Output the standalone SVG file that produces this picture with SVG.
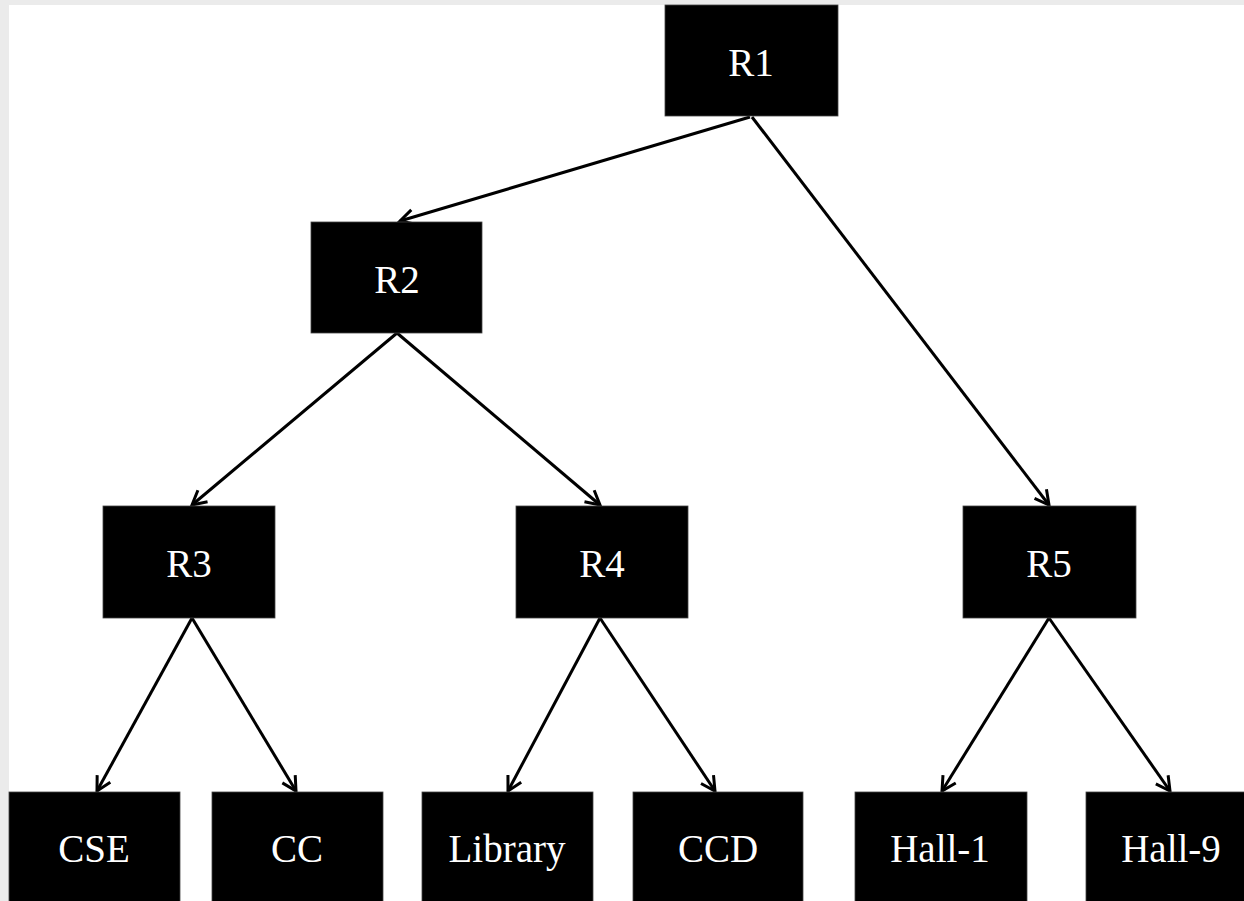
<svg xmlns="http://www.w3.org/2000/svg" width="1244" height="901" viewBox="0 0 1244 901">
<style>
.box{fill:#000;stroke:#444;stroke-width:0.8}
.lbl{fill:#fff;font-family:"Liberation Serif","Times New Roman",serif;font-size:39px;text-anchor:middle}
.edge{stroke:#000;stroke-width:3;fill:none;marker-end:url(#arr)}
</style>
<defs>
<marker id="arr" viewBox="0 0 18 18" refX="16" refY="9" markerWidth="18" markerHeight="18" markerUnits="userSpaceOnUse" orient="auto" overflow="visible">
<path d="M2,1.5 L16,9 L2,16.5" fill="none" stroke="#000" stroke-width="3" stroke-linejoin="miter"/>
</marker>
</defs>
<rect x="0" y="0" width="1244" height="901" fill="#ebebeb"/>
<rect x="9" y="5" width="1235" height="896" fill="#fff"/>
<g id="connectors">
<line class="edge" x1="750" y1="117" x2="400" y2="221"/>
<line class="edge" x1="752" y1="117" x2="1049" y2="505"/>
<line class="edge" x1="397" y1="333" x2="192" y2="505"/>
<line class="edge" x1="397" y1="333" x2="600" y2="505"/>
<line class="edge" x1="192" y1="618" x2="97" y2="791"/>
<line class="edge" x1="192" y1="618" x2="296" y2="791"/>
<line class="edge" x1="600" y1="618" x2="508" y2="791"/>
<line class="edge" x1="600" y1="618" x2="715" y2="791"/>
<line class="edge" x1="1049" y1="618" x2="942" y2="791"/>
<line class="edge" x1="1049" y1="618" x2="1170" y2="791"/>
</g>
<g id="R1"><rect class="box" x="665" y="5" width="173" height="111"/><text class="lbl" x="751" y="76">R1</text></g>
<g id="R2"><rect class="box" x="311" y="222" width="171" height="111"/><text class="lbl" x="397" y="293">R2</text></g>
<g id="R3"><rect class="box" x="103" y="506" width="172" height="112"/><text class="lbl" x="189" y="577">R3</text></g>
<g id="R4"><rect class="box" x="516" y="506" width="172" height="112"/><text class="lbl" x="602" y="577">R4</text></g>
<g id="R5"><rect class="box" x="963" y="506" width="173" height="112"/><text class="lbl" x="1049" y="577">R5</text></g>
<g id="CSE"><rect class="box" x="9" y="792" width="171" height="115"/><text class="lbl" x="94" y="862">CSE</text></g>
<g id="CC"><rect class="box" x="212" y="792" width="171" height="115"/><text class="lbl" x="297" y="862">CC</text></g>
<g id="Library"><rect class="box" x="422" y="792" width="171" height="115"/><text class="lbl" x="507" y="862">Library</text></g>
<g id="CCD"><rect class="box" x="633" y="792" width="170" height="115"/><text class="lbl" x="718" y="862">CCD</text></g>
<g id="Hall-1"><rect class="box" x="855" y="792" width="172" height="115"/><text class="lbl" x="940" y="862">Hall-1</text></g>
<g id="Hall-9"><rect class="box" x="1086" y="792" width="172" height="115"/><text class="lbl" x="1171" y="862">Hall-9</text></g>
</svg>
